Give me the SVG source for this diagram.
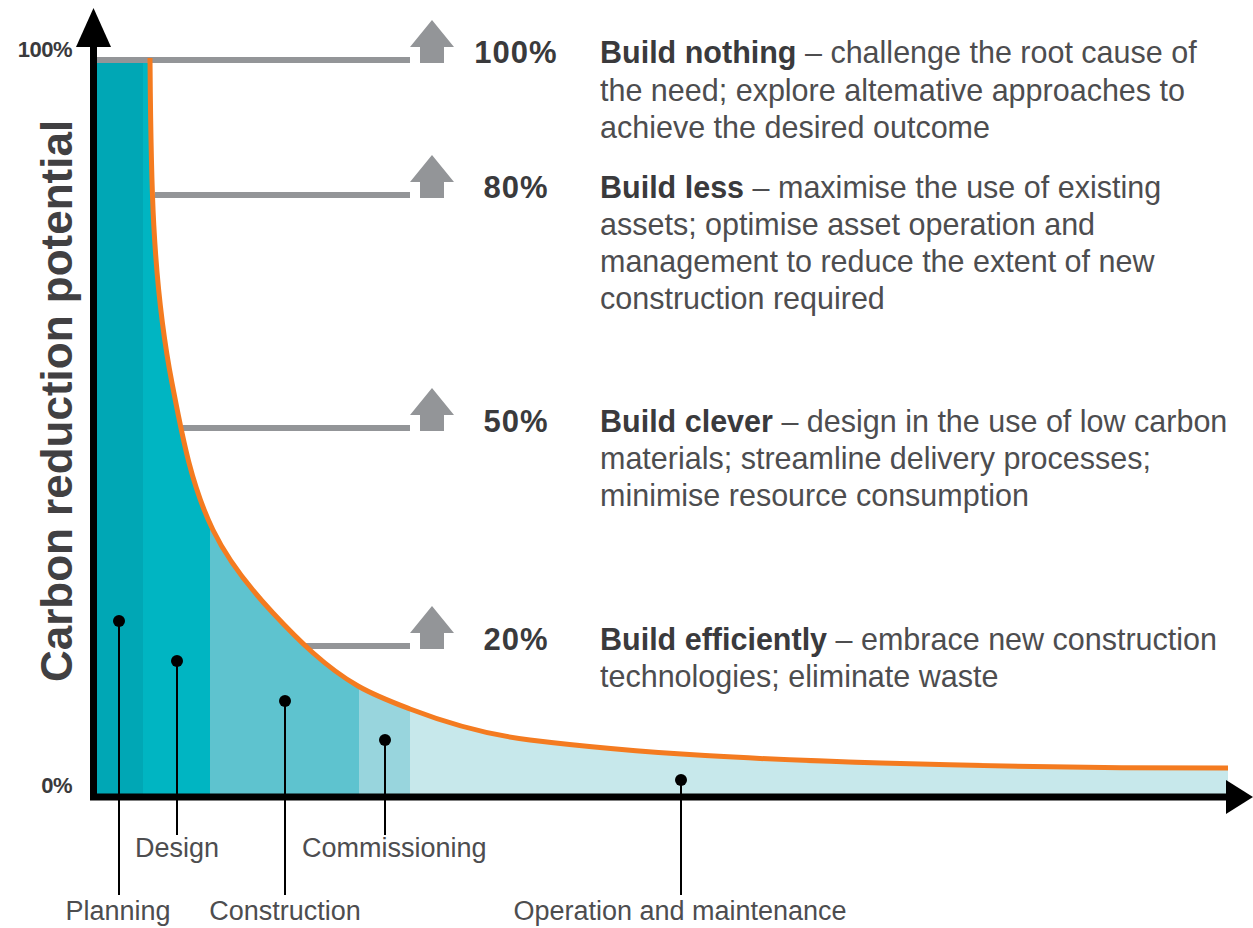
<svg xmlns="http://www.w3.org/2000/svg" xmlns:xlink="http://www.w3.org/1999/xlink" width="1253" height="928" viewBox="0 0 1253 928">
  <style>
    .lvl { stroke: #939598; stroke-width: 6; fill: none; }
    .arrow { fill: #939598; }
    .pct { font-family: "Liberation Sans", Arial, sans-serif; font-weight: bold; font-size: 31px; fill: #3a3a3c; text-anchor: middle; letter-spacing: 1px; }
    .desc { font-family: "Liberation Sans", Arial, sans-serif; font-size: 30.5px; fill: #4d4d4f; }
    .desc .b { font-weight: bold; fill: #3a3a3c; }
    .stage { font-family: "Liberation Sans", Arial, sans-serif; font-size: 27px; fill: #4d4d4f; }
    .lead { stroke: #000; stroke-width: 2; fill: none; }
    .dot { fill: #000; }
    .axlbl { font-family: "Liberation Sans", Arial, sans-serif; font-weight: bold; font-size: 22px; fill: #3a3a3c; text-anchor: end; letter-spacing: -0.5px; }
    .ytitle { font-family: "Liberation Sans", Arial, sans-serif; font-weight: bold; font-size: 44px; fill: #414042; text-anchor: middle; }
  </style>
  <defs>
    <clipPath id="area">
      <path d="M96,60 L150,60 L150,58 C150.9,166.6 151.3,276.4 172,383 C181.7,433 190.7,484.3 213,530 C227.9,560.6 249.7,588.1 273,613 C298.4,640.3 325.7,667.35 358,686 C374.5,695.5 392.3,702.2 410,709 C448.6,723.8 489,735 530,740 C646.4,754.3 763.8,759.5 881,763 C996.6,766.4 1112.3,768 1228,768 L1228,797 L96,797 Z"/>
    </clipPath>
    <path id="up" d="M0,-43 L22,-16 L12,-16 L12,0 L-12,0 L-12,-16 L-22,-16 Z"/>
  </defs>
  <rect width="1253" height="928" fill="#fff"/>

  <g id="phases" clip-path="url(#area)">
    <rect x="96" y="55" width="48" height="742" fill="#00a7b5"/>
    <rect x="143" y="55" width="67" height="742" fill="#00b5c2"/>
    <rect x="210" y="55" width="149" height="742" fill="#5ec3cf"/>
    <rect x="359" y="55" width="51" height="742" fill="#98d5dd"/>
    <rect x="410" y="55" width="820" height="742" fill="#c7e8eb"/>
  </g>

  <g id="connectors">
    <line class="lvl" x1="96" y1="60" x2="410" y2="60"/>
    <line class="lvl" x1="155" y1="195" x2="410" y2="195"/>
    <line class="lvl" x1="183" y1="428" x2="410" y2="428"/>
    <line class="lvl" x1="305" y1="646" x2="410" y2="646"/>
    <line class="lead" x1="119" y1="621" x2="119" y2="895"/>
    <line class="lead" x1="177" y1="661" x2="177" y2="835"/>
    <line class="lead" x1="285" y1="701" x2="285" y2="895"/>
    <line class="lead" x1="385" y1="740" x2="385" y2="835"/>
    <line class="lead" x1="681" y1="780" x2="681" y2="895"/>
  </g>

  <g id="curve">
    <path fill="none" stroke="#f47b20" stroke-width="5" d="M150,58 C150.9,166.6 151.3,276.4 172,383 C181.7,433 190.7,484.3 213,530 C227.9,560.6 249.7,588.1 273,613 C298.4,640.3 325.7,667.35 358,686 C374.5,695.5 392.3,702.2 410,709 C448.6,723.8 489,735 530,740 C646.4,754.3 763.8,759.5 881,763 C996.6,766.4 1112.3,768 1228,768"/>
  </g>

  <g id="axes">
    <line x1="93.5" y1="800" x2="93.5" y2="40" stroke="#000" stroke-width="7"/>
    <polygon points="93.5,8 76,47 111,47" fill="#000"/>
    <line x1="90" y1="797" x2="1230" y2="797" stroke="#000" stroke-width="7"/>
    <polygon points="1253,797 1226,780 1226,814" fill="#000"/>
    <text class="axlbl" x="72" y="57">100%</text>
    <text class="axlbl" x="72" y="793">0%</text>
    <text class="ytitle" transform="translate(72,401) rotate(-90)">Carbon reduction potential</text>
  </g>

  <g id="level-100">
    <use href="#up" xlink:href="#up" class="arrow" x="432" y="63"/>
    <text class="pct" x="516" y="63">100%</text>
    <text class="desc" x="600" y="63"><tspan class="b">Build nothing</tspan> – challenge the root cause of</text>
    <text class="desc" x="600" y="100.5">the need; explore altemative approaches to</text>
    <text class="desc" x="600" y="138">achieve the desired outcome</text>
  </g>
  <g id="level-80">
    <use href="#up" xlink:href="#up" class="arrow" x="432" y="198"/>
    <text class="pct" x="516" y="198">80%</text>
    <text class="desc" x="600" y="198"><tspan class="b">Build less</tspan> – maximise the use of existing</text>
    <text class="desc" x="600" y="235">assets; optimise asset operation and</text>
    <text class="desc" x="600" y="272">management to reduce the extent of new</text>
    <text class="desc" x="600" y="309">construction required</text>
  </g>
  <g id="level-50">
    <use href="#up" xlink:href="#up" class="arrow" x="432" y="431"/>
    <text class="pct" x="516" y="432">50%</text>
    <text class="desc" x="600" y="432"><tspan class="b">Build clever</tspan> – design in the use of low carbon</text>
    <text class="desc" x="600" y="469">materials; streamline delivery processes;</text>
    <text class="desc" x="600" y="506">minimise resource consumption</text>
  </g>
  <g id="level-20">
    <use href="#up" xlink:href="#up" class="arrow" x="432" y="649"/>
    <text class="pct" x="516" y="650">20%</text>
    <text class="desc" x="600" y="650"><tspan class="b">Build efficiently</tspan> – embrace new construction</text>
    <text class="desc" x="600" y="687">technologies; eliminate waste</text>
  </g>

  <g id="stage-planning">
    <circle class="dot" cx="119" cy="621" r="6"/>
    <text class="stage" x="118" y="920" text-anchor="middle">Planning</text>
  </g>
  <g id="stage-design">
    <circle class="dot" cx="177" cy="661" r="6"/>
    <text class="stage" x="177" y="857" text-anchor="middle">Design</text>
  </g>
  <g id="stage-construction">
    <circle class="dot" cx="285" cy="701" r="6"/>
    <text class="stage" x="285" y="920" text-anchor="middle">Construction</text>
  </g>
  <g id="stage-commissioning">
    <circle class="dot" cx="385" cy="740" r="6"/>
    <text class="stage" x="302" y="857">Commissioning</text>
  </g>
  <g id="stage-operation">
    <circle class="dot" cx="681" cy="780" r="6"/>
    <text class="stage" x="680" y="920" text-anchor="middle">Operation and maintenance</text>
  </g>
</svg>
